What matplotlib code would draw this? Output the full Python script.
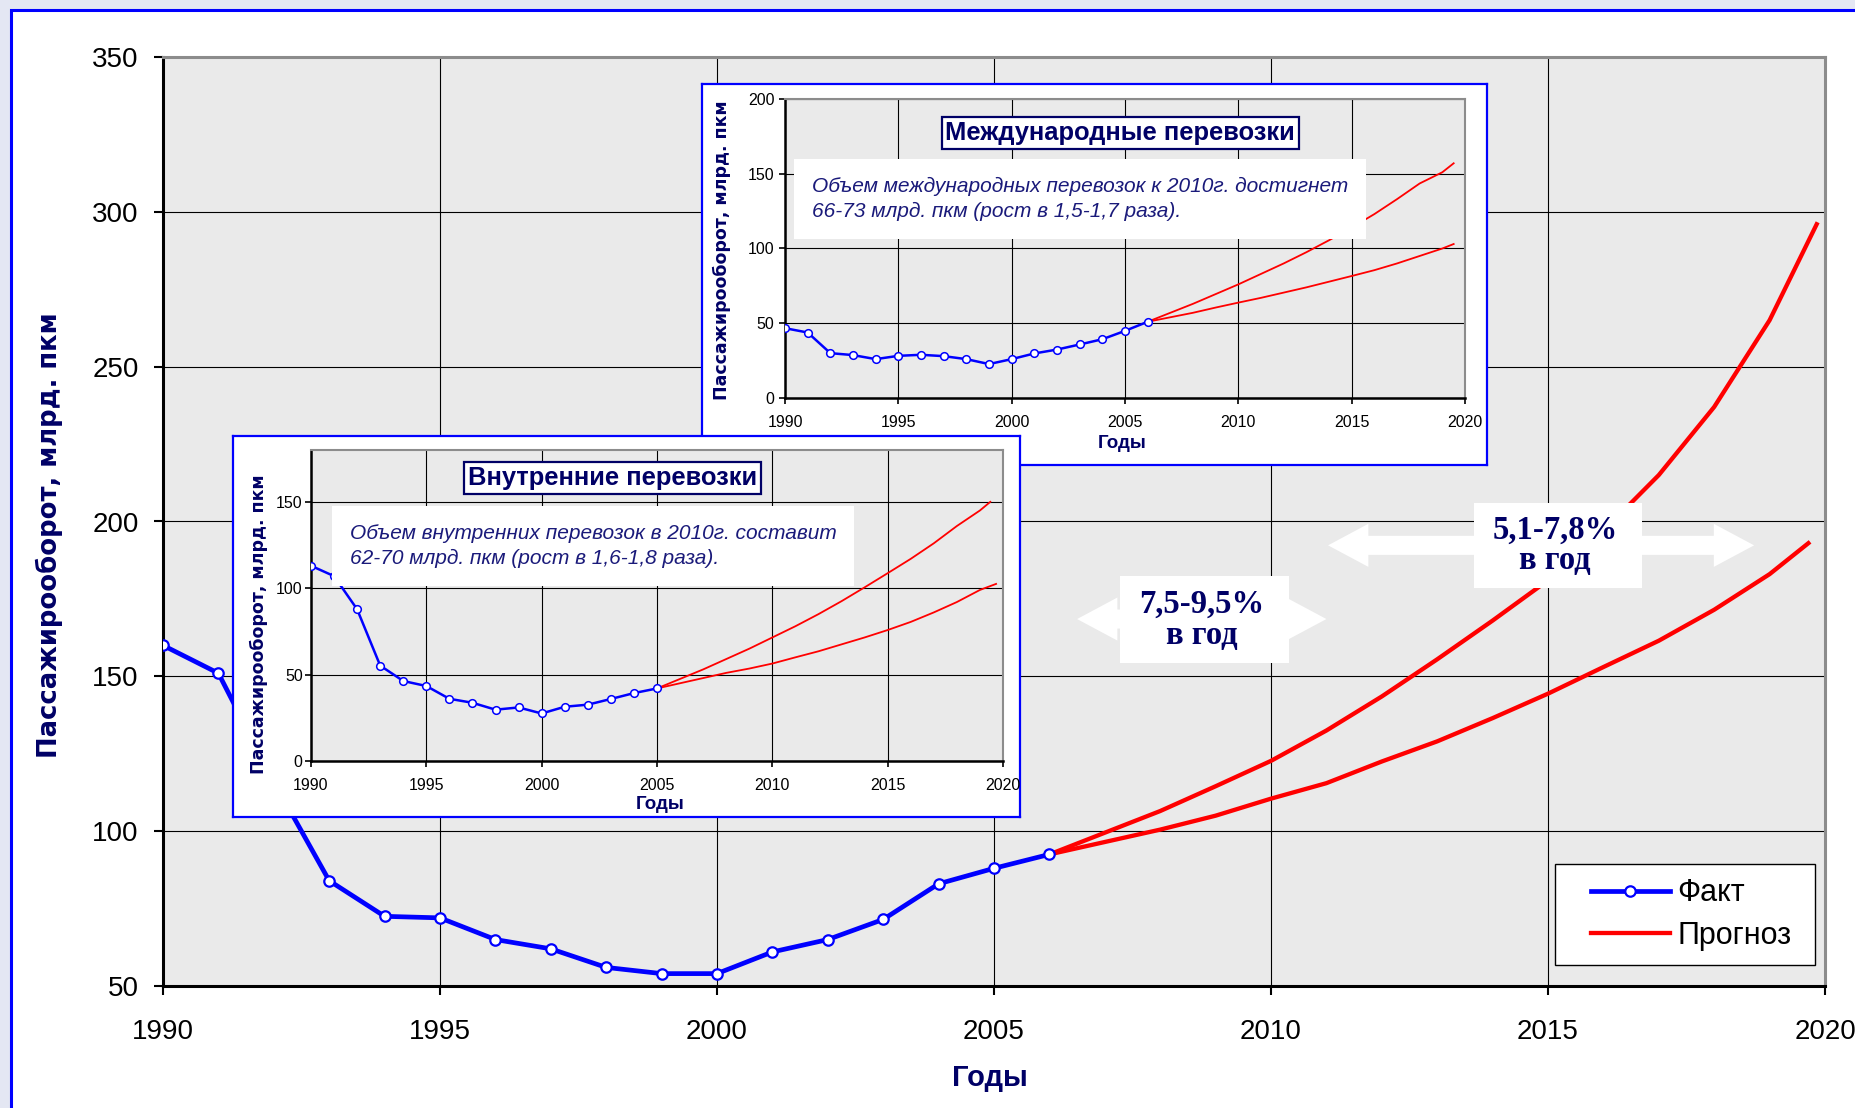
import matplotlib
matplotlib.use("Agg")
import matplotlib.pyplot as plt
from matplotlib.patches import Rectangle, FancyArrowPatch

plt.rcParams["font.family"] = ["Liberation Sans", "DejaVu Sans"]

NAVY = "#000066"
NOTE_COLOR = "#1a1a7a"
BLUE = "#0000ff"
RED = "#ff0000"
PLOT_BG = "#eaeaea"

# total passenger turnover, bln pkm
fact_years = list(range(1990, 2007))
fact_total = [160, 151, 116, 84, 72.5, 72, 65, 62, 56, 54, 54, 61, 65, 71.5, 83, 88, 92.5]
fc_years_hi = list(range(2006, 2020)) + [2019.85]
fc_total_hi = [92.5, 99.5, 106.5, 114.5, 122.7, 132.5, 143.5, 155.5, 168, 181,
               197, 215, 237, 265, 296]
fc_years_lo = list(range(2006, 2020)) + [2019.7]
fc_total_lo = [92.5, 96.5, 100.5, 105, 110.5, 115.5, 122.5, 129, 136.5, 144.4,
               153, 161.5, 171.5, 183, 193]

# international
intl_years = list(range(1990, 2007))
intl_fact = [46.7, 43.8, 30, 28.7, 26, 28.2, 28.9, 28, 26, 22.7, 26, 29.8, 32.4,
             35.8, 39.3, 44.9, 51]
intl_fc_years = list(range(2006, 2020)) + [2019.5]
intl_fc_hi = [51, 57, 63, 69.5, 76, 83, 90, 97.5, 105.5, 114, 123, 133, 143.5, 151, 157]
intl_fc_lo = [51, 54, 57, 60.5, 63.8, 67, 70.5, 74, 77.8, 81.6, 85.5, 90, 95, 100, 103]

# domestic
dom_years = list(range(1990, 2006))
dom_fact = [113, 107, 87.8, 55.2, 46.3, 43.4, 36, 33.7, 29.7, 31, 27.5, 31.4, 32.6,
            35.9, 39.3, 42]
dom_fc_years_hi = list(range(2005, 2020)) + [2019.45]
dom_fc_hi = [42, 47.5, 53, 59, 65, 71.5, 78, 85, 92.5, 100.5, 108.7, 117, 126, 136, 145, 150]
dom_fc_years_lo = list(range(2005, 2020)) + [2019.7]
dom_fc_lo = [42, 45, 48, 51, 53.5, 56.4, 60, 63.5, 67.5, 71.5, 75.8, 80.5, 86, 92, 99, 102.5]

year_ticks = list(range(1990, 2021, 5))

# growth-rate callouts: arrow span, label box (x0, x1, y0, y1), label
rate_notes = [
    ((2006.5, 2011.0), 168.5, (2007.27, 2010.33, 154.3, 182.4), "7,5-9,5%\nв год"),
    ((2011.03, 2018.72), 192.3, (2013.66, 2016.7, 178.5, 206.0), "5,1-7,8%\nв год"),
]

fig = plt.figure(figsize=(18.56, 11.08), dpi=100, facecolor="#e4e7f3")
# slide frame
fig.patches.append(Rectangle((11 / 1856, -0.1), 1.2, 0.991 + 0.1, transform=fig.transFigure,
                             facecolor="white", edgecolor=BLUE, linewidth=2.2, zorder=-1))


def style_axes(ax, lw_axis, lw_frame, lw_grid):
    ax.set_facecolor(PLOT_BG)
    ax.grid(True, color="black", linewidth=lw_grid)
    ax.set_axisbelow(True)
    for side in ("left", "bottom"):
        ax.spines[side].set_color("black")
        ax.spines[side].set_linewidth(lw_axis)
    for side in ("top", "right"):
        ax.spines[side].set_color("#8c8c8c")
        ax.spines[side].set_linewidth(lw_frame)


# main chart
ax = fig.add_axes([163 / 1856, 122 / 1108, 1662 / 1856, 929 / 1108])
style_axes(ax, 2.2, 2.2, 0.8)
ax.plot(fact_years, fact_total, color=BLUE, lw=3.4, marker="o", ms=7.5,
        mfc="white", mec=BLUE, mew=1.6, label="Факт", zorder=4)
ax.plot(fc_years_hi, fc_total_hi, color=RED, lw=3.1, label="Прогноз", zorder=3)
ax.plot(fc_years_lo, fc_total_lo, color=RED, lw=3.1, zorder=3)
ax.set_xlim(1990, 2020)
ax.set_ylim(50, 350)
ax.set_xticks(year_ticks)
ax.set_yticks(range(50, 351, 50))
ax.tick_params(direction="out", length=6.5, width=1.5, labelsize=20)
ax.tick_params(axis="y", pad=11)
ax.tick_params(axis="x", pad=17)
ax.set_ylabel("Пассажирооборот, млрд. пкм", family=["DejaVu Sans"], fontweight="bold",
              fontsize=18.6, color=NAVY)
ax.yaxis.set_label_coords(-0.060, 0.485)
ax.set_xlabel("Годы", fontweight="bold", fontsize=21, color=NAVY)
ax.xaxis.set_label_coords(0.4976, -0.084)

# legend with its own frame (the original has wider side margins)
ax.add_patch(Rectangle((0.8376, 0.0226), 0.9940 - 0.8376, 0.1313 - 0.0226,
                       transform=ax.transAxes, facecolor="white", edgecolor="black",
                       linewidth=1.0, zorder=9))
leg = ax.legend(loc="center left", bbox_to_anchor=(0.859, 0.077), fontsize=22,
                frameon=False, borderpad=0, borderaxespad=0, handlelength=2.6,
                handletextpad=0.25, labelspacing=0.4)
leg.set_zorder(10)

# growth-rate labels with white double arrows
for (x0, x1), y, (bx0, bx1, by0, by1), label in rate_notes:
    xm = (x0 + x1) / 2
    for xe in (x0, x1):
        ax.add_patch(FancyArrowPatch((xm, y), (xe, y),
                                     arrowstyle="simple,head_length=29,head_width=31,tail_width=13.7",
                                     mutation_scale=1, shrinkA=0, shrinkB=0,
                                     facecolor="white", edgecolor="none", zorder=6))
    ax.add_patch(Rectangle((bx0, by0), bx1 - bx0, by1 - by0, facecolor="white",
                           edgecolor="none", zorder=7))
    ax.text((bx0 + bx1) / 2 - 0.05, (by0 + by1) / 2, label, ha="center", va="center",
            family=["Liberation Serif"], fontweight="bold", fontsize=23.5, color=NAVY,
            linespacing=1.0, zorder=8)


def draw_inset(box_rect, ax_rect, years, fact, fc_years_hi, fc_hi, fc_years_lo, fc_lo,
               ylim, yticks, title, title_xy, note, note_xy, ylabel_xy, xlabel_xy, ypad):
    box = fig.add_axes(box_rect)
    box.set_xticks([])
    box.set_yticks([])
    box.set_facecolor("white")
    for sp in box.spines.values():
        sp.set_color(BLUE)
        sp.set_linewidth(1.6)
    iax = fig.add_axes(ax_rect)
    style_axes(iax, 1.8, 1.5, 0.8)
    iax.plot(years, fact, color=BLUE, lw=1.8, marker="o", ms=5.5, mfc="white",
             mec=BLUE, mew=1.1, zorder=4)
    iax.plot(fc_years_hi, fc_hi, color=RED, lw=1.3, zorder=3)
    iax.plot(fc_years_lo, fc_lo, color=RED, lw=1.3, zorder=3)
    iax.set_xlim(1990, 2020)
    iax.set_ylim(*ylim)
    iax.set_xticks(year_ticks)
    iax.set_yticks(yticks)
    iax.tick_params(direction="out", length=4, width=1.2, labelsize=11.5)
    iax.tick_params(axis="y", pad=ypad)
    iax.tick_params(axis="x", pad=8)
    iax.set_ylabel("Пассажирооборот, млрд. пкм", family=["DejaVu Sans"],
                   fontweight="bold", fontsize=12.5, color=NAVY)
    iax.yaxis.set_label_coords(*ylabel_xy)
    iax.set_xlabel("Годы", fontweight="bold", fontsize=13.5, color=NAVY)
    iax.xaxis.set_label_coords(*xlabel_xy)
    iax.text(*title_xy, title, transform=iax.transAxes, ha="center", va="center",
             fontweight="bold", fontsize=18.4, color=NAVY, zorder=7,
             bbox=dict(boxstyle="square,pad=0.15", facecolor="white", edgecolor=NAVY,
                       linewidth=1.6))
    iax.text(*note_xy, note, transform=iax.transAxes, ha="left", va="center",
             style="italic", fontsize=15, color=NOTE_COLOR, linespacing=1.4, zorder=6,
             bbox=dict(boxstyle="square,pad=0.85", facecolor="white", edgecolor="none"))
    return iax


draw_inset([702 / 1856, 643 / 1108, 785 / 1856, 381 / 1108],
           [785 / 1856, 710 / 1108, 680 / 1856, 299 / 1108],
           intl_years, intl_fact, intl_fc_years, intl_fc_hi, intl_fc_years, intl_fc_lo,
           (0, 200), range(0, 201, 50), "Международные перевозки", (0.493, 0.886),
           "Объем международных перевозок к 2010г. достигнет\n"
           "66-73 млрд. пкм (рост в 1,5-1,7 раза).", (0.040, 0.665),
           (-0.080, 0.495), (0.496, -0.125), 3.5)

draw_inset([233 / 1856, 291 / 1108, 787 / 1856, 381 / 1108],
           [311 / 1856, 347 / 1108, 692 / 1856, 311 / 1108],
           dom_years, dom_fact, dom_fc_years_hi, dom_fc_hi, dom_fc_years_lo, dom_fc_lo,
           (0, 180), range(0, 151, 50), "Внутренние перевозки", (0.436, 0.91),
           "Объем внутренних перевозок в 2010г. составит\n"
           "62-70 млрд. пкм (рост в 1,6-1,8 раза).", (0.056, 0.691),
           (-0.062, 0.44), (0.504, -0.112), 2)

fig.savefig("out.png", dpi=100)
